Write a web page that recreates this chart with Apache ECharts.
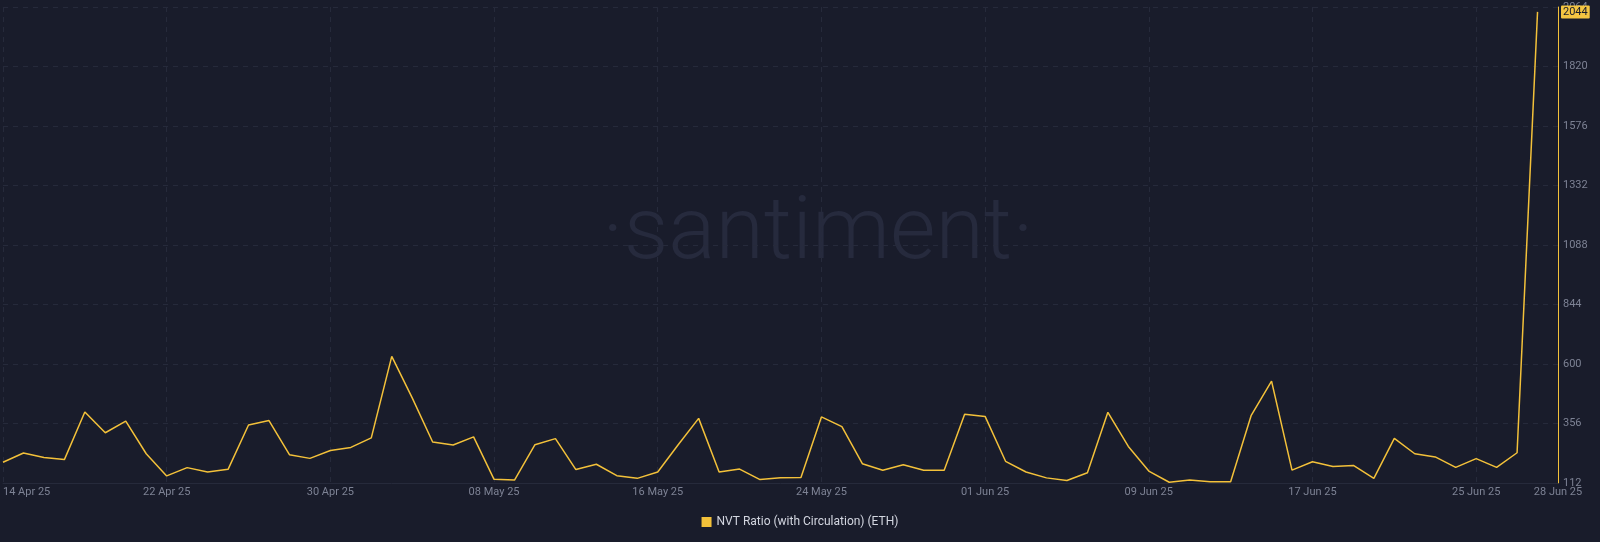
<!DOCTYPE html>
<html>
<head>
<meta charset="utf-8">
<script src="https://cdn.jsdelivr.net/npm/echarts@6/dist/echarts.min.js"></script>
<style>
html,body{margin:0;padding:0;background:#191c2b;}
#c{width:1600px;height:542px;}
</style>
</head>
<body>
<div id="c"></div>
<script>
// NVT Ratio (with Circulation) (ETH), daily from 14 Apr 25 to 28 Jun 25
var nvtValues = [
  197,235,217,208,403,318,366,232,141,175,
  157,168,350,368,228,213,245,258,297,631,
  461,280,268,301,127,124,269,294,167,189,
  142,131,157,269,377,157,169,126,134,135,
  383,343,191,164,187,164,164,394,385,201,
  157,133,122,154,402,262,161,115,124,117,
  117,388,530,165,199,180,184,131,295,232,
  219,176,212,176,236,2044
];
var xTickLabels = ['14 Apr 25','22 Apr 25','30 Apr 25','08 May 25','16 May 25','24 May 25','01 Jun 25','09 Jun 25','17 Jun 25','25 Jun 25','28 Jun 25'];
var yMin = 112, yMax = 2064, yStep = 244;
var seriesName = 'NVT Ratio (with Circulation) (ETH)';

var lineColor = '#f3c13a';
var gridColor = '#262a3b';
var textColor = '#7d8294';

var seriesData = nvtValues.map(function (v, i) { return [i, v]; });
var lastValue = nvtValues[nvtValues.length - 1];

var chart = echarts.init(document.getElementById('c'));
chart.setOption({
  animation: false,
  backgroundColor: '#191c2b',
  textStyle: { fontFamily: 'Roboto, "Noto Sans", sans-serif' },
  graphic: [{
    type: 'text',
    left: 602,
    top: 192,
    z: 0,
    silent: true,
    style: {
      text: '\u00B7santiment\u00B7',
      fontSize: 88,
      fontWeight: 300,
      fontFamily: 'Roboto, "Noto Sans", sans-serif',
      fill: '#262a3d'
    }
  }],
  grid: { left: 0, right: 42, top: 7, bottom: 59 },
  legend: {
    bottom: 9,
    left: 'center',
    icon: 'rect',
    itemWidth: 10,
    itemHeight: 10,
    itemGap: 6,
    textStyle: { color: '#d3d6e0', fontSize: 12 },
    data: [seriesName]
  },
  xAxis: {
    type: 'value',
    min: 0,
    max: 76,
    interval: 8,
    axisLine: { show: true, onZero: false, lineStyle: { color: gridColor } },
    axisTick: { show: false },
    splitLine: { show: true, lineStyle: { color: gridColor, type: [5, 5] } },
    axisPointer: { show: false },
    axisLabel: {
      color: textColor,
      fontSize: 11,
      margin: 4,
      alignMinLabel: 'left',
      formatter: function (v, idx) { return xTickLabels[idx] || ''; }
    }
  },
  yAxis: {
    type: 'value',
    position: 'right',
    min: yMin,
    max: yMax,
    interval: yStep,
    axisLine: { show: true, onZero: false, lineStyle: { color: lineColor, width: 1 } },
    axisTick: { show: false },
    splitLine: { show: true, lineStyle: { color: gridColor, type: [5, 5] } },
    axisLabel: { color: textColor, fontSize: 11, margin: 5, formatter: function (v) { return String(v); } },
    axisPointer: {
      show: true,
      status: 'show',
      value: lastValue,
      snap: false,
      triggerTooltip: false,
      type: 'line',
      lineStyle: { opacity: 0 },
      label: {
        show: true,
        margin: 3,
        formatter: function (p) { return String(p.value); },
        backgroundColor: '#f5c542',
        color: '#191c2b',
        fontSize: 11,
        padding: [1, 2, 1, 2],
        borderRadius: 1,
        shadowBlur: 0
      }
    }
  },
  series: [{
    name: seriesName,
    type: 'line',
    data: seriesData,
    showSymbol: false,
    symbol: 'none',
    lineStyle: { color: lineColor, width: 1.5 },
    itemStyle: { color: lineColor }
  }]
});
</script>
</body>
</html>
